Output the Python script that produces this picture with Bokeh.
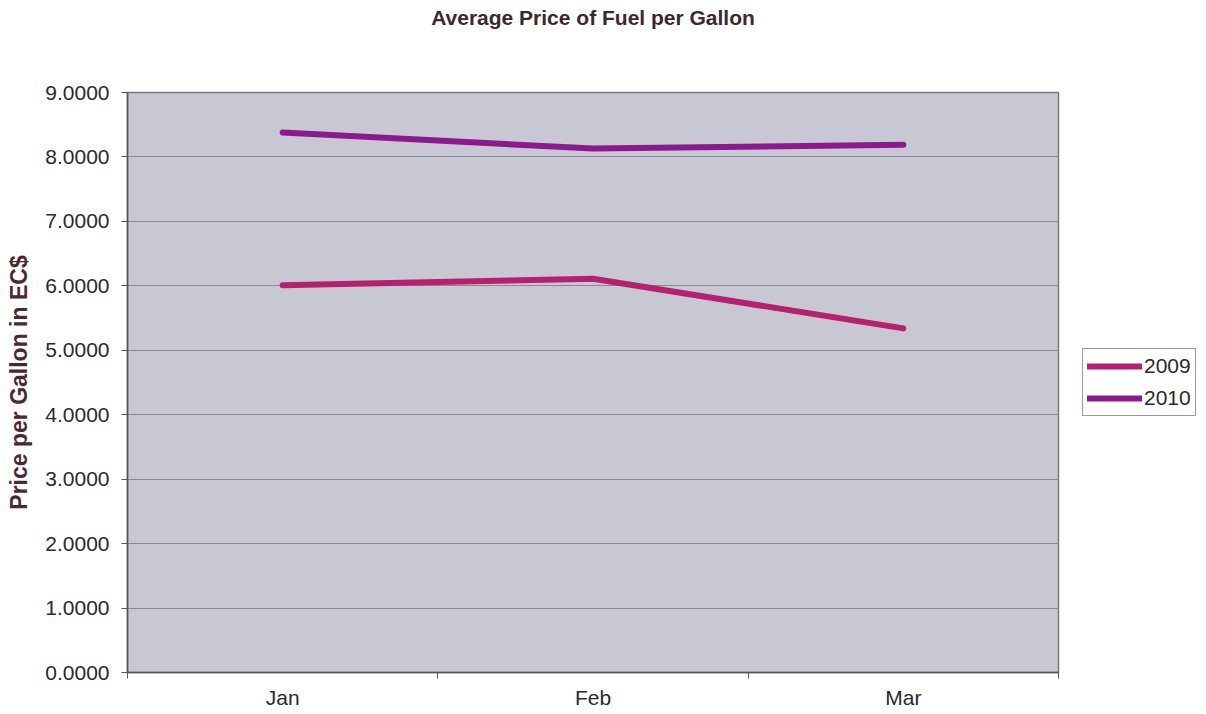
from bokeh.plotting import figure
from bokeh.models import (FixedTicker, NumeralTickFormatter, Legend, LegendItem,
                          ColumnDataSource, Range1d, Title)
from bokeh.embed import file_html
from bokeh.resources import INLINE

months = ["Jan", "Feb", "Mar"]
price_2009 = [6.01, 6.11, 5.34]
price_2010 = [8.38, 8.13, 8.19]
y_ticks = [0, 1, 2, 3, 4, 5, 6, 7, 8, 9]

xpos = [i + 0.5 for i in range(len(months))]

p = figure(frame_width=931, frame_height=580, output_backend="svg", toolbar_location=None,
           x_range=Range1d(0, len(months)), y_range=Range1d(0, 9),
           min_border_left=127, min_border_right=0, min_border_top=0,
           min_border_bottom=34)
p.title = None

p.background_fill_color = "#c8c8d5"
p.border_fill_color = "white"
p.outline_line_color = "#7a7a7a"
p.outline_line_width = 1.5

src = ColumnDataSource(dict(x=xpos, y09=price_2009, y10=price_2010))
r09 = p.line("x", "y09", source=src, line_color="#b5206f", line_width=6, line_cap="round")
r10 = p.line("x", "y10", source=src, line_color="#8a1b8f", line_width=6, line_cap="round")

# Title: a blank spacer next to the frame, then the real title above it
spacer = Title(text=" ", text_font_size="21px", standoff=31)
p.add_layout(spacer, "above")
main_title = Title(text="Average Price of Fuel per Gallon", align="center",
                   vertical_align="top", text_font="Liberation Sans",
                   text_font_size="21px", text_font_style="bold",
                   text_color="#3a2a2e", offset=0, standoff=11)
p.add_layout(main_title, "above")

# X axis
xt = FixedTicker(ticks=xpos, minor_ticks=[float(i) for i in range(len(months) + 1)])
p.xaxis.ticker = xt
p.xaxis.major_label_overrides = {x: m for x, m in zip(xpos, months)}
p.xaxis.major_tick_out = 0
p.xaxis.major_tick_in = 0
p.xaxis.minor_tick_out = 6
p.xaxis.minor_tick_in = 0
p.xaxis.minor_tick_line_color = "#555555"
p.xaxis.axis_line_color = "#555555"
p.xaxis.axis_line_width = 1.5
p.xaxis.major_label_text_font = "Liberation Sans"
p.xaxis.major_label_text_font_size = "21px"
p.xaxis.major_label_text_color = "#2a2a2a"
p.xaxis.major_label_standoff = 7
p.xgrid.visible = False

# Y axis
p.yaxis.ticker = FixedTicker(ticks=y_ticks)
p.yaxis.formatter = NumeralTickFormatter(format="0.0000")
p.yaxis.major_tick_out = 6
p.yaxis.major_tick_in = 0
p.yaxis.minor_tick_out = 0
p.yaxis.minor_tick_in = 0
p.yaxis.major_tick_line_color = "#555555"
p.yaxis.axis_line_color = "#555555"
p.yaxis.axis_line_width = 1.5
p.yaxis.major_label_text_font = "Liberation Sans"
p.yaxis.major_label_text_font_size = "21px"
p.yaxis.major_label_text_color = "#2a2a2a"
p.yaxis.major_label_standoff = 12
p.yaxis.axis_label = "Price per Gallon in EC$"
p.yaxis.axis_label_text_font = "Liberation Sans"
p.yaxis.axis_label_text_font_size = "23px"
p.yaxis.axis_label_text_font_style = "bold"
p.yaxis.axis_label_text_color = "#4a2a32"
p.yaxis.axis_label_standoff = 10
p.ygrid.grid_line_color = "#8a8a8e"
p.ygrid.grid_line_width = 1.2

legend = Legend(items=[LegendItem(label="2009", renderers=[r09]),
                       LegendItem(label="2010", renderers=[r10])],
                location="left")
legend.label_text_font = "Liberation Sans"
legend.label_text_font_size = "21px"
legend.label_text_color = "#2a2a2a"
legend.glyph_width = 55
legend.glyph_height = 26
legend.label_standoff = 2
legend.padding = 4
legend.spacing = 6
legend.margin = 24
legend.border_line_color = "#333333"
legend.border_line_width = 1
legend.background_fill_color = "white"
legend.background_fill_alpha = 1
p.add_layout(legend, "right")

open("out.html", "w").write(file_html(p, INLINE))
